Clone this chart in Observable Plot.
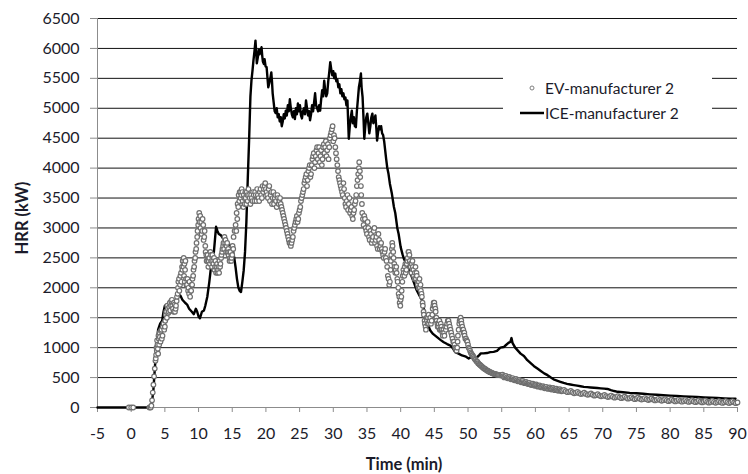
<!DOCTYPE html>
<html>
<head>
<meta charset="utf-8">
<script src="https://cdn.jsdelivr.net/npm/d3@7"></script>
<script src="https://cdn.jsdelivr.net/npm/@observablehq/plot@0.6"></script>
<style>
  body { margin: 0; background: #fff; }
  #chart { position: relative; width: 748px; height: 474px; font-family: Lato, "Open Sans", sans-serif; color: #1b1b2a; }
  #chart svg { position: absolute; left: 0; top: 0; }
  .title { position: absolute; font-weight: bold; font-size: 16.5px; white-space: nowrap; line-height: 20px; }
  #xtitle { left: 404px; top: 454px; transform: translateX(-50%); }
  #ytitle { left: 22px; top: 218px; transform: translate(-50%, -50%) rotate(-90deg); }
  #legend { position: absolute; left: 503px; top: 71px; width: 209px; height: 56px; background: #fff; }
  .item { position: absolute; left: 0; height: 20px; line-height: 20px; font-size: 15.5px; white-space: nowrap; }
  .item svg { position: absolute; left: 0; top: 0; }
  .item span { position: absolute; left: 42px; top: 0; }
</style>
</head>
<body>
<div id="chart">
  <div id="xtitle" class="title">Time (min)</div>
  <div id="ytitle" class="title">HRR (kW)</div>
  <div id="legend">
    <div class="item" style="top:7px">
      <svg width="42" height="20"><circle cx="29" cy="10" r="2" fill="#fff" stroke="#7f7f7f" stroke-width="1"/></svg>
      <span>EV-manufacturer 2</span>
    </div>
    <div class="item" style="top:32px">
      <svg width="42" height="20"><line x1="17" x2="41" y1="10" y2="10" stroke="#000" stroke-width="2.5"/></svg>
      <span>ICE-manufacturer 2</span>
    </div>
  </div>
</div>
<script>
// Axis ticks
const xTicks = [-5, 0, 5, 10, 15, 20, 25, 30, 35, 40, 45, 50, 55, 60, 65, 70, 75, 80, 85, 90];
const yTicks = [0, 500, 1000, 1500, 2000, 2500, 3000, 3500, 4000, 4500, 5000, 5500, 6000, 6500];

// Heat release rate, ICE vehicle: [time (min), HRR (kW)]
const iceSeries = [
  [-5, 0], [0, 0], [3.0, 0], [3.3, 300], [3.6, 800], [3.8, 1050], [4.0, 1300], [4.3, 1400], [4.6, 1450],
  [4.8, 1600], [5.0, 1700], [5.2, 1650], [5.5, 1750], [6.0, 1700], [6.5, 1750], [7.0, 1850], [7.3, 1870],
  [7.6, 1800], [8.0, 1750], [8.3, 1720], [8.6, 1650], [9.0, 1600], [9.3, 1560], [9.6, 1650], [9.8, 1600],
  [10.0, 1520], [10.2, 1490], [10.5, 1600], [10.8, 1620], [11.0, 1700], [11.3, 1850], [11.6, 2100],
  [11.8, 2300], [12.0, 2320], [12.2, 2500], [12.4, 2760], [12.6, 3020], [12.8, 2950], [13.0, 2900],
  [13.3, 2880], [13.6, 2830], [14.0, 2790], [14.3, 2750], [14.6, 2720], [15.0, 2680], [15.3, 2500],
  [15.5, 2340], [15.7, 2150], [15.9, 2010], [16.1, 1950], [16.3, 1930], [16.5, 2100], [16.7, 2290],
  [16.9, 2600], [17.1, 3100], [17.3, 3800], [17.5, 4460], [17.7, 5200], [17.85, 5460], [18.0, 5620],
  [18.15, 5800], [18.3, 5950], [18.45, 6130], [18.55, 5950], [18.65, 5750], [18.8, 5850], [18.95, 5980],
  [19.05, 5900], [19.2, 5960], [19.35, 6020], [19.45, 5880], [19.55, 5780], [19.7, 5740], [19.8, 5820],
  [19.95, 5700], [20.1, 5690], [20.2, 5550], [20.35, 5350], [20.5, 5420], [20.65, 5500], [20.8, 5600],
  [20.9, 5450], [21.0, 5250], [21.15, 5100], [21.3, 4950], [21.45, 4920], [21.6, 5000], [21.75, 4850],
  [21.9, 4900], [22.05, 4780], [22.2, 4850], [22.35, 4700], [22.5, 4780], [22.65, 4900], [22.8, 4830],
  [22.95, 4960], [23.1, 4880], [23.25, 5050], [23.4, 4950], [23.55, 5150], [23.7, 5000], [23.85, 4900],
  [24.0, 4850], [24.15, 4950], [24.3, 4820], [24.45, 5000], [24.6, 4900], [24.75, 5080], [24.9, 4950],
  [25.05, 5050], [25.2, 4880], [25.35, 4830], [25.5, 4950], [25.65, 5000], [25.8, 4900], [25.95, 5130],
  [26.1, 5000], [26.25, 4880], [26.4, 4950], [26.55, 4800], [26.7, 4900], [26.85, 5050], [27.0, 4950],
  [27.15, 5100], [27.3, 5250], [27.45, 5050], [27.6, 5000], [27.75, 4950], [27.9, 5050], [28.05, 4960],
  [28.2, 5150], [28.35, 5300], [28.5, 5200], [28.65, 5460], [28.8, 5300], [28.95, 5200], [29.1, 5250],
  [29.25, 5450], [29.4, 5600], [29.55, 5770], [29.7, 5650], [29.85, 5550], [30.0, 5620], [30.15, 5500],
  [30.3, 5580], [30.45, 5450], [30.6, 5480], [30.75, 5350], [30.9, 5400], [31.05, 5250], [31.2, 5320],
  [31.35, 5200], [31.5, 5250], [31.65, 5150], [31.8, 5180], [31.95, 5050], [32.1, 5130], [32.2, 4800],
  [32.3, 4490], [32.45, 4700], [32.6, 4850], [32.75, 4960], [32.9, 4750], [33.05, 4850], [33.2, 4700],
  [33.35, 4685], [33.5, 4950], [33.65, 5150], [33.8, 5350], [33.95, 5450], [34.1, 5580], [34.2, 5350],
  [34.35, 5185], [34.5, 4800], [34.6, 4490], [34.75, 4700], [34.9, 4850], [35.05, 4910], [35.2, 4750],
  [35.35, 4580], [35.5, 4700], [35.65, 4850], [35.8, 4910], [35.95, 4750], [36.1, 4800], [36.25, 4880],
  [36.4, 4650], [36.5, 4460], [36.65, 4600], [36.8, 4700], [36.95, 4650], [37.1, 4700], [37.25, 4580],
  [37.4, 4550], [37.55, 4450], [37.7, 4300], [37.85, 4150], [38.0, 4015], [38.2, 3900], [38.4, 3740],
  [38.7, 3570], [39.0, 3350], [39.2, 3250], [39.5, 3000], [39.7, 2900], [40.0, 2680], [40.3, 2550],
  [40.5, 2480], [40.8, 2420], [41.2, 2300], [41.6, 2200], [42.0, 2080], [42.4, 1955], [42.8, 1870],
  [43.2, 1790], [43.5, 1620], [43.7, 1510], [44.0, 1400], [44.4, 1285], [44.8, 1230], [45.4, 1175],
  [45.9, 1130], [46.4, 1090], [46.9, 1060], [47.4, 1035], [47.8, 980], [48.1, 925], [48.6, 900],
  [49.1, 870], [49.7, 850], [50.1, 820], [50.4, 840], [50.8, 830], [51.4, 845], [51.7, 880], [51.9, 905],
  [52.3, 905], [52.8, 910], [53.3, 925], [53.8, 930], [54.3, 945], [54.8, 1000], [55.3, 1010],
  [55.6, 1040], [56.0, 1080], [56.3, 1100], [56.45, 1160], [56.6, 1080], [57.0, 1000], [57.4, 950],
  [57.8, 900], [58.3, 860], [58.8, 790], [59.3, 740], [59.8, 690], [60.3, 650], [60.8, 610], [61.3, 570],
  [61.8, 540], [62.3, 500], [62.7, 470], [63.2, 450], [63.7, 430], [64.2, 410], [64.7, 395], [65.2, 385],
  [65.7, 375], [66.2, 365], [66.7, 355], [67.2, 345], [67.7, 340], [68.2, 335], [68.7, 330], [69.2, 325],
  [69.7, 320], [70.2, 315], [70.7, 310], [71.2, 290], [71.7, 275], [72.2, 262], [73, 255], [74, 245],
  [75, 238], [76, 230], [77, 220], [78, 212], [79, 205], [80, 198], [81, 192], [82, 186], [83, 180],
  [84, 175], [85, 168], [86, 163], [87, 158], [88, 152], [89, 148], [89.7, 145]
];

// Heat release rate, EV: [time (min), HRR (kW)]
const evSeries = [
  [-0.35, 0], [0.0, 0], [0.3, 0], [2.7, 0], [2.9, 0], [3.0, 30], [3.1, 120], [3.2, 250], [3.3, 380],
  [3.4, 520], [3.5, 650], [3.6, 780], [3.7, 880], [3.8, 950], [3.9, 1050], [4.0, 900], [4.1, 1150],
  [4.2, 1250], [4.35, 1100], [4.5, 1300], [4.65, 1200], [4.8, 1400], [5.0, 1350], [5.15, 1550],
  [5.3, 1500], [5.45, 1650], [5.6, 1600], [5.75, 1750], [5.9, 1700], [6.05, 1800], [6.2, 1650],
  [6.35, 1750], [6.5, 1600], [6.65, 1700], [6.8, 1850], [6.95, 2000], [7.1, 2150], [7.25, 2050],
  [7.4, 2250], [7.55, 2350], [7.7, 2450], [7.8, 2500], [7.9, 2400], [8.0, 2300], [8.15, 2150],
  [8.3, 2050], [8.45, 1950], [8.6, 1900], [8.75, 1850], [8.9, 1950], [9.05, 2050], [9.2, 2200],
  [9.35, 2350], [9.5, 2500], [9.65, 2650], [9.8, 2850], [9.95, 3050], [10.1, 3250], [10.25, 3200],
  [10.4, 3100], [10.55, 2950], [10.7, 3050], [10.85, 2850], [11.0, 2700], [11.15, 2550], [11.3, 2450],
  [11.45, 2350], [11.6, 2500], [11.75, 2600], [11.9, 2450], [12.05, 2550], [12.2, 2400], [12.35, 2300],
  [12.5, 2450], [12.65, 2350], [12.8, 2250], [12.95, 2350], [13.1, 2450], [13.25, 2400], [13.4, 2550],
  [13.55, 2650], [13.7, 2750], [13.85, 2850], [14.0, 2800], [14.15, 2700], [14.3, 2600], [14.45, 2550],
  [14.6, 2450], [14.75, 2600], [14.9, 2500], [15.05, 2700], [15.2, 2850], [15.35, 2950], [15.5, 3050],
  [15.65, 3250], [15.8, 3400], [15.95, 3550], [16.1, 3600], [16.25, 3500], [16.4, 3650], [16.55, 3450],
  [16.7, 3550], [16.85, 3400], [17.0, 3500], [17.15, 3600], [17.3, 3450], [17.5, 3550], [17.7, 3400],
  [17.9, 3500], [18.1, 3600], [18.3, 3450], [18.5, 3550], [18.7, 3650], [18.9, 3500], [19.1, 3600],
  [19.3, 3550], [19.5, 3700], [19.7, 3650], [19.9, 3750], [20.1, 3600], [20.3, 3500], [20.5, 3700],
  [20.7, 3550], [20.9, 3400], [21.1, 3600], [21.3, 3500], [21.5, 3450], [21.7, 3550], [21.9, 3400],
  [22.1, 3500], [22.3, 3350], [22.5, 3250], [22.7, 3150], [22.9, 3050], [23.1, 2950], [23.3, 2850],
  [23.5, 2750], [23.7, 2700], [23.9, 2800], [24.1, 2950], [24.3, 3050], [24.5, 3150], [24.7, 3100],
  [24.9, 3250], [25.1, 3350], [25.3, 3500], [25.5, 3600], [25.7, 3750], [25.9, 3850], [26.1, 3700],
  [26.3, 3950], [26.5, 4050], [26.7, 3900], [26.9, 4150], [27.1, 4250], [27.3, 4100], [27.5, 4300],
  [27.7, 4150], [27.9, 4350], [28.1, 4200], [28.3, 4050], [28.5, 4350], [28.7, 4250], [28.9, 4450],
  [29.1, 4300], [29.3, 4150], [29.5, 4500], [29.7, 4600], [29.9, 4700], [30.1, 4550], [30.3, 4350],
  [30.5, 4150], [30.7, 3950], [30.9, 3800], [31.1, 3700], [31.3, 3600], [31.5, 3750], [31.7, 3500],
  [31.9, 3350], [32.1, 3550], [32.3, 3400], [32.5, 3250], [32.7, 3350], [32.9, 3150], [33.1, 3300],
  [33.3, 3450], [33.5, 3700], [33.7, 3900], [33.85, 4100], [34.0, 3850], [34.15, 3550], [34.3, 3250],
  [34.5, 3050], [34.7, 3150], [34.9, 2950], [35.1, 3100], [35.3, 2850], [35.5, 2950], [35.7, 2750],
  [35.9, 2850], [36.1, 3000], [36.3, 2800], [36.5, 2700], [36.7, 2900], [36.9, 2650], [37.1, 2750],
  [37.3, 2600], [37.5, 2500], [37.7, 2650], [37.9, 2450], [38.1, 2200], [38.3, 2050], [38.5, 2300],
  [38.6, 2550], [38.75, 2750], [38.9, 2600], [39.05, 2400], [39.2, 2250], [39.35, 2350], [39.5, 2150],
  [39.65, 2000], [39.8, 1850], [39.95, 1700], [40.1, 1850], [40.25, 2100], [40.4, 2300], [40.55, 2200],
  [40.7, 2400], [40.85, 2300], [41.0, 2450], [41.15, 2600], [41.3, 2550], [41.45, 2400], [41.6, 2250],
  [41.75, 2450], [41.9, 2300], [42.05, 2150], [42.2, 2350], [42.35, 2250], [42.5, 2100], [42.65, 2000],
  [42.8, 2150], [42.95, 2050], [43.1, 1900], [43.25, 1750], [43.4, 1600], [43.55, 1450], [43.7, 1350],
  [43.85, 1500], [44.0, 1400], [44.15, 1550], [44.3, 1450], [44.5, 1400], [44.7, 1550], [44.85, 1700],
  [45.0, 1750], [45.15, 1650], [45.3, 1500], [45.45, 1400], [45.6, 1350], [45.75, 1450], [45.9, 1300],
  [46.05, 1350], [46.2, 1250], [46.35, 1300], [46.5, 1200], [46.7, 1300], [46.9, 1400], [47.1, 1450],
  [47.3, 1350], [47.5, 1250], [47.7, 1150], [47.9, 1100], [48.1, 1000], [48.3, 950], [48.45, 1100],
  [48.6, 1300], [48.75, 1450], [48.9, 1500], [49.05, 1400], [49.2, 1300], [49.35, 1250], [49.5, 1200],
  [49.7, 1150], [49.9, 1100], [50.1, 1000], [50.3, 950], [50.5, 900], [50.7, 870], [50.9, 830],
  [51.1, 800], [51.3, 770], [51.5, 740], [51.7, 720], [51.9, 700], [52.1, 680], [52.3, 660], [52.5, 645],
  [52.7, 630], [52.9, 615], [53.1, 600], [53.3, 590], [53.5, 580], [53.7, 570], [53.9, 560], [54.1, 555],
  [54.3, 550], [54.5, 545], [54.75, 540], [55.0, 540], [55.25, 525], [55.5, 520], [55.75, 505],
  [56.0, 500], [56.25, 490], [56.5, 480], [56.75, 470], [57.0, 465], [57.25, 455], [57.5, 445],
  [57.75, 440], [58.0, 430], [58.25, 425], [58.5, 415], [58.75, 408], [59.0, 400], [59.25, 392],
  [59.5, 385], [59.75, 378], [60.0, 370], [60.25, 365], [60.5, 355], [60.75, 350], [61.0, 345],
  [61.25, 338], [61.5, 330], [61.75, 325], [62.0, 320], [62.25, 315], [62.5, 310], [62.75, 305],
  [63.0, 300], [63.25, 296], [63.5, 290], [63.75, 285], [64.0, 280], [64.5, 272], [65.0, 262],
  [65.5, 255], [66.0, 246], [66.5, 240], [67.0, 232], [67.5, 226], [68.0, 220], [68.5, 214], [69.0, 206],
  [69.5, 200], [70.0, 195], [70.5, 190], [71.0, 184], [71.5, 180], [72.0, 175], [72.5, 170], [73.0, 166],
  [73.5, 162], [74.0, 158], [74.5, 153], [75.0, 150], [75.5, 146], [76.0, 142], [76.5, 139], [77.0, 135],
  [77.5, 132], [78.0, 128], [78.5, 126], [79.0, 122], [79.5, 120], [80.0, 117], [80.5, 115], [81.0, 112],
  [81.5, 110], [82.0, 108], [82.5, 106], [83.0, 104], [83.5, 102], [84.0, 100], [84.5, 98], [85.0, 96],
  [85.5, 94], [86.0, 93], [86.5, 91], [87.0, 90], [87.5, 89], [88.0, 88], [88.5, 87], [89.0, 86],
  [89.5, 86], [90.0, 85],
  // in-between readings (the logger samples faster than the minute grid above)
  [3.65, 820], [3.75, 1000], [3.85, 1120], [3.95, 980], [4.05, 1200], [4.15, 1050], [4.25, 1180],
  [4.4, 1280], [4.55, 1150], [4.7, 1350], [4.9, 1300], [5.05, 1450], [5.2, 1600], [5.35, 1700],
  [5.5, 1580], [5.65, 1680], [5.8, 1620], [5.95, 1780], [6.1, 1700], [6.3, 1600], [6.45, 1720],
  [6.6, 1650], [6.75, 1780], [6.9, 1900], [7.0, 2100], [7.15, 1950], [7.3, 2200], [7.45, 2100],
  [7.6, 2300], [7.65, 2450], [7.75, 2350], [7.85, 2200], [7.95, 2100], [8.05, 2450], [8.2, 2050],
  [8.35, 2150], [8.5, 2000], [8.65, 2100], [8.8, 1950], [8.95, 2050], [9.1, 2150], [9.25, 2300],
  [9.4, 2450], [9.55, 2600], [9.7, 2750], [9.85, 2950], [10.0, 3150], [10.15, 3100], [10.3, 3000],
  [10.45, 2900], [10.6, 3150], [10.75, 2800], [10.9, 2950], [11.05, 2600], [11.2, 2450], [11.35, 2550],
  [11.5, 2450], [11.7, 2400], [11.85, 2550], [12.0, 2350], [12.15, 2450], [12.3, 2500], [12.45, 2350],
  [12.6, 2250], [12.75, 2400], [12.9, 2300], [13.05, 2250], [13.2, 2350], [13.35, 2500], [13.5, 2600],
  [13.65, 2700], [13.8, 2650], [13.95, 2750], [14.1, 2600], [14.25, 2750], [14.4, 2650], [14.55, 2600],
  [14.7, 2500], [14.85, 2450], [15.0, 2550], [15.15, 2650], [15.6, 2950], [15.75, 3150], [15.9, 3350],
  [16.05, 3450], [16.2, 3600], [16.35, 3550], [16.5, 3600], [16.65, 3350], [16.8, 3500], [16.95, 3600],
  [17.1, 3400], [17.25, 3550], [17.4, 3650], [17.6, 3500], [17.8, 3550], [18.0, 3450], [18.2, 3550],
  [18.4, 3600], [18.6, 3450], [18.8, 3550], [19.0, 3450], [19.2, 3650], [19.4, 3500], [19.6, 3600],
  [19.8, 3700], [20.0, 3650], [20.2, 3550], [20.4, 3650], [20.6, 3450], [20.8, 3600], [21.0, 3500],
  [21.2, 3400], [21.4, 3550], [21.6, 3350], [21.8, 3500], [22.0, 3450], [22.2, 3400], [22.4, 3300],
  [22.6, 3200], [22.8, 3100], [23.0, 3000], [23.2, 2900], [23.4, 2800], [23.6, 2750], [23.8, 2750],
  [24.0, 2850], [24.2, 3000], [24.4, 3100], [24.6, 3200], [24.8, 3150], [25.0, 3300], [25.2, 3450],
  [25.4, 3550], [25.6, 3650], [25.8, 3800], [26.0, 3900], [26.2, 3800], [26.4, 4000], [26.6, 3850],
  [26.8, 4050], [27.0, 4200], [27.2, 4000], [27.4, 4200], [27.6, 4350], [27.8, 4250], [28.0, 4100],
  [28.2, 4300], [28.4, 4150], [28.6, 4400], [28.8, 4350], [29.0, 4200], [29.2, 4400], [29.4, 4350],
  [29.6, 4550], [29.8, 4650], [30.0, 4450], [30.2, 4500], [30.4, 4250], [30.6, 4050], [30.8, 3850],
  [31.0, 3750], [31.2, 3650], [31.4, 3550], [31.6, 3650], [31.8, 3400], [32.0, 3450], [32.2, 3300],
  [32.4, 3500], [32.6, 3300], [32.8, 3200], [33.0, 3250], [33.2, 3400], [33.4, 3550], [33.6, 3800],
  [33.8, 4000], [33.95, 3950], [34.1, 3700], [34.25, 3400], [34.4, 3150], [34.6, 3200], [34.8, 3000],
  [35.0, 2900], [35.2, 3000], [35.4, 2800], [35.6, 2900], [35.8, 2800], [36.0, 2950], [36.2, 2750],
  [36.4, 2850], [36.6, 2650], [36.8, 2800], [37.0, 2700], [37.2, 2650], [37.4, 2550], [37.6, 2600],
  [37.8, 2500], [38.0, 2350], [38.2, 2150], [38.4, 2100], [38.55, 2450], [38.7, 2650], [38.8, 2700],
  [38.95, 2500], [39.1, 2350], [39.25, 2300], [39.4, 2250], [39.55, 2100], [39.7, 1900], [39.85, 1750],
  [40.0, 1800], [40.15, 1950], [40.3, 2200], [40.45, 2250], [40.6, 2350], [40.75, 2250], [40.9, 2400],
  [41.05, 2500], [41.2, 2600], [41.35, 2450], [41.5, 2350], [41.65, 2400], [41.8, 2350], [41.95, 2200],
  [42.1, 2250], [42.25, 2150], [42.4, 2200], [42.55, 2050], [42.7, 2100], [42.85, 2000], [43.0, 1950],
  [43.15, 1850], [43.3, 1700], [43.45, 1550], [43.6, 1400], [43.75, 1300], [43.9, 1450], [44.05, 1500],
  [44.2, 1400], [44.4, 1500], [44.6, 1450], [44.75, 1650], [44.9, 1750], [45.05, 1700], [45.2, 1600],
  [45.35, 1450], [45.5, 1350], [45.65, 1400], [45.8, 1300], [45.95, 1400], [46.1, 1300], [46.25, 1200],
  [46.45, 1250], [46.6, 1350], [46.8, 1350], [47.0, 1450], [47.2, 1400], [47.4, 1300], [47.6, 1200],
  [47.8, 1100], [48.0, 1050], [48.2, 980], [48.4, 1000], [48.5, 1200], [48.7, 1400], [48.85, 1480],
  [49.0, 1450], [49.15, 1350], [49.3, 1300], [49.45, 1250], [49.6, 1150], [49.8, 1120], [50.0, 1050],
  [50.2, 980], [50.4, 920], [50.6, 880], [50.8, 850], [51.0, 810], [51.2, 780], [51.4, 760], [51.6, 730],
  [51.8, 710], [52.0, 690], [52.2, 670], [52.4, 650], [52.6, 640], [52.8, 620], [53.0, 610], [53.2, 595],
  [53.4, 585], [53.6, 575], [53.8, 565], [54.0, 560], [54.2, 552], [54.4, 548], [54.6, 542], [54.9, 535],
  [55.125, 548], [55.375, 503], [55.625, 528], [55.875, 488], [56.125, 510], [56.375, 470], [56.625, 492],
  [56.875, 454], [57.125, 476], [57.375, 438], [57.625, 460], [57.875, 421], [58.125, 446], [58.375, 406],
  [58.625, 428], [58.875, 393], [59.125, 413], [59.375, 376], [59.625, 399], [59.875, 362], [60.125, 384],
  [60.375, 348], [60.625, 370], [60.875, 335], [61.125, 358], [61.375, 322], [61.625, 346], [61.875, 310],
  [62.125, 336], [62.375, 300], [62.625, 326], [62.875, 290], [63.125, 316], [63.375, 280], [63.625, 306],
  [63.875, 270], [64.25, 294], [64.75, 256], [65.25, 276], [65.75, 238], [66.25, 261], [66.75, 224],
  [67.25, 247], [67.75, 211], [68.25, 235], [68.75, 198], [69.25, 221], [69.75, 186], [70.25, 210],
  [70.75, 175], [71.25, 200], [71.75, 165], [72.25, 190], [72.75, 156], [73.25, 182], [73.75, 148],
  [74.25, 174], [74.75, 139], [75.25, 166], [75.75, 132], [76.25, 158], [76.75, 125], [77.25, 151],
  [77.75, 118], [78.25, 145], [78.75, 112], [79.25, 139], [79.75, 106], [80.25, 134], [80.75, 101],
  [81.25, 129], [81.75, 97], [82.25, 125], [82.75, 93], [83.25, 121], [83.75, 89], [84.25, 117],
  [84.75, 85], [85.25, 113], [85.75, 81], [86.25, 110], [86.75, 78], [87.25, 107], [87.75, 76],
  [88.25, 105], [88.75, 74], [89.25, 104], [89.75, 73]
];

const ice = iceSeries.map(([t, v]) => ({t, v}));
const ev = evSeries.map(([t, v]) => ({t, v})).sort((a, b) => a.t - b.t);
const label = d => String(d);

const chart = Plot.plot({
  width: 748,
  height: 474,
  marginLeft: 97,
  marginRight: 11,
  marginTop: 18,
  marginBottom: 67,
  style: {fontFamily: "Lato, 'Open Sans', sans-serif", fontSize: "16px", color: "#1b1b2a", background: "transparent"},
  x: {domain: [-5, 90]},
  y: {domain: [0, 6500]},
  marks: [
    Plot.ruleY(yTicks.filter(v => v > 0), {stroke: "#111", strokeWidth: 1}),
    Plot.axisY({ticks: yTicks, tickSize: 7, tickPadding: 11, stroke: "#8c8c8c", tickFormat: label, label: null}),
    Plot.axisX({ticks: xTicks, tickSize: 5, tickPadding: 15, stroke: "#8c8c8c", tickFormat: label, label: null}),
    Plot.ruleY([0], {stroke: "#8c8c8c"}),
    Plot.ruleX([-5], {stroke: "#8c8c8c"}),
    Plot.line(ice, {x: "t", y: "v", stroke: "#000", strokeWidth: 2.4, strokeLinejoin: "round"}),
    Plot.dot(ev, {x: "t", y: "v", r: 2.3, fill: "#fff", stroke: "#6f6f6f", strokeWidth: 1.2})
  ]
});
document.getElementById("chart").prepend(chart);
</script>
</body>
</html>
